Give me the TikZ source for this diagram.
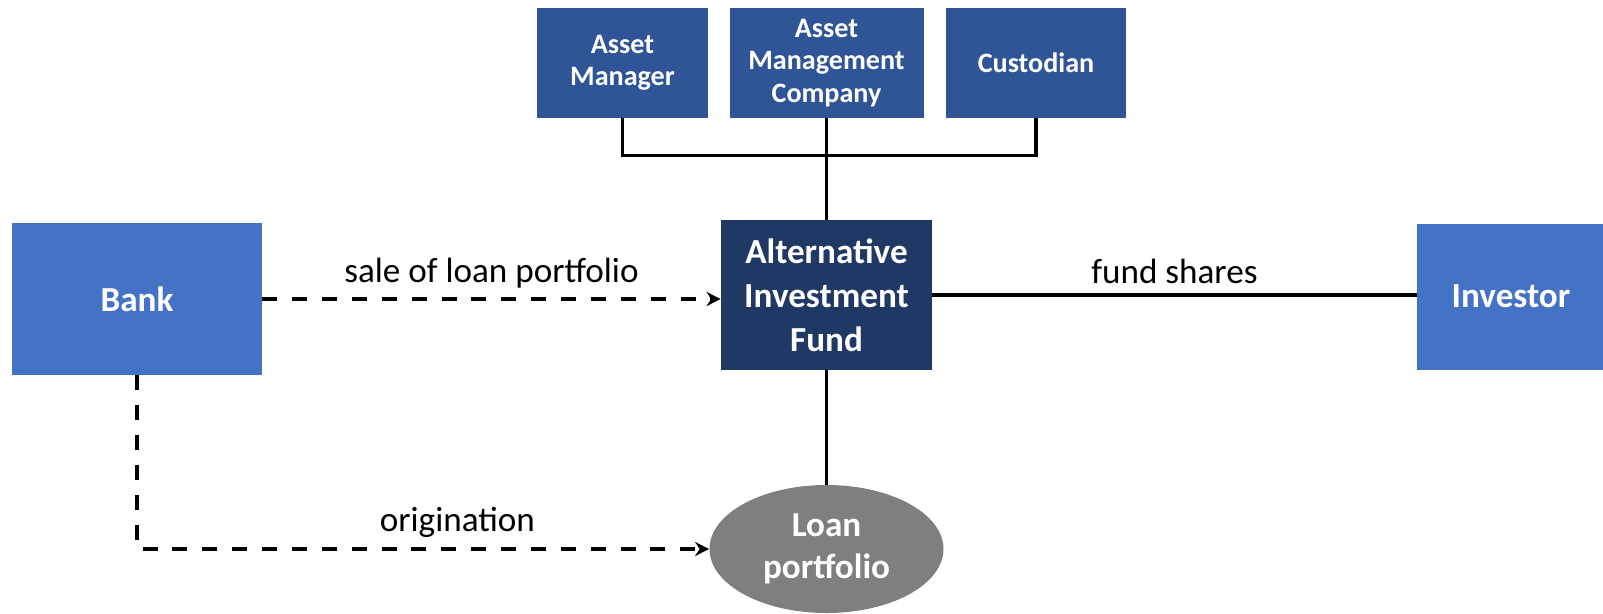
\documentclass[tikz,border=0pt]{standalone}
\usepackage{fontspec}
\setmainfont{Carlito}
\usetikzlibrary{arrows.meta,shapes.geometric}
\definecolor{topblue}{HTML}{2F5597}
\definecolor{sideblue}{HTML}{4472C4}
\definecolor{fundblue}{HTML}{203864}
\definecolor{loangray}{HTML}{7F7F7F}

\begin{document}
\begin{tikzpicture}[
    party/.style={fill=sideblue, text=white, font=\fontsize{20}{25}\selectfont\bfseries, align=center, minimum width=5cm, minimum height=3.04cm},
    service/.style={fill=topblue, text=white, font=\fontsize{16}{18.5}\selectfont\bfseries, align=center, minimum height=2.2cm},
    link/.style={line width=2.1pt},
    flow/.style={line width=2.2pt, dash pattern=on 8.5pt off 8.5pt, -{Stealth[length=8pt,width=8pt]}},
    lbl/.style={font=\fontsize{20}{24}\selectfont, text=black}
]
      \clip (0,0) rectangle (32.06,-12.26); % page size of the reference

      % the three service providers on top
      \node[service, minimum width=3.42cm] (am) at (12.45,-1.26) {Asset\\Manager};
      \node[service, minimum width=3.88cm] (amc) at (16.53,-1.26) {Asset\\Management\\Company};
      \node[service, minimum width=3.6cm] (cust) at (20.72,-1.26) {Custodian};

      % middle row
      \node[party, fill=fundblue, minimum width=4.22cm, minimum height=3cm] (aif) at (16.53,-5.9) {Alternative\\Investment\\Fund};
      \node[party] (bank) at (2.74,-5.98) {Bank};
      \node[party, minimum width=3.76cm, minimum height=2.92cm] (inv) at (30.22,-5.93) {Investor}; % cut by the right edge

      \node[ellipse, fill=loangray, text=white, font=\fontsize{20}{24}\selectfont\bfseries, align=center, minimum width=4.68cm, minimum height=2.56cm, inner sep=0pt] (loan) at (16.53,-10.98) {Loan\\portfolio};

      % bracket from the providers down to the fund
      \draw[link] (am.south) -- ++(0,-0.74) -| (cust.south);
      \draw[link] (amc.south) -- (aif.north);
      \draw[link] (aif.south) -- (loan.north);

      \draw[link] (aif.east) -- (aif.east -| inv.west) node[lbl, midway, above, yshift=2pt] {fund shares};
      \draw[flow] (bank.east) -- (bank.east -| aif.west) node[lbl, midway, above, yshift=2pt] {sale of loan portfolio};
      \draw[flow] (bank.south) |- (loan.west) node[lbl, pos=0.78, above, yshift=2pt] {origination}; % down, then right
\end{tikzpicture}
\end{document}
